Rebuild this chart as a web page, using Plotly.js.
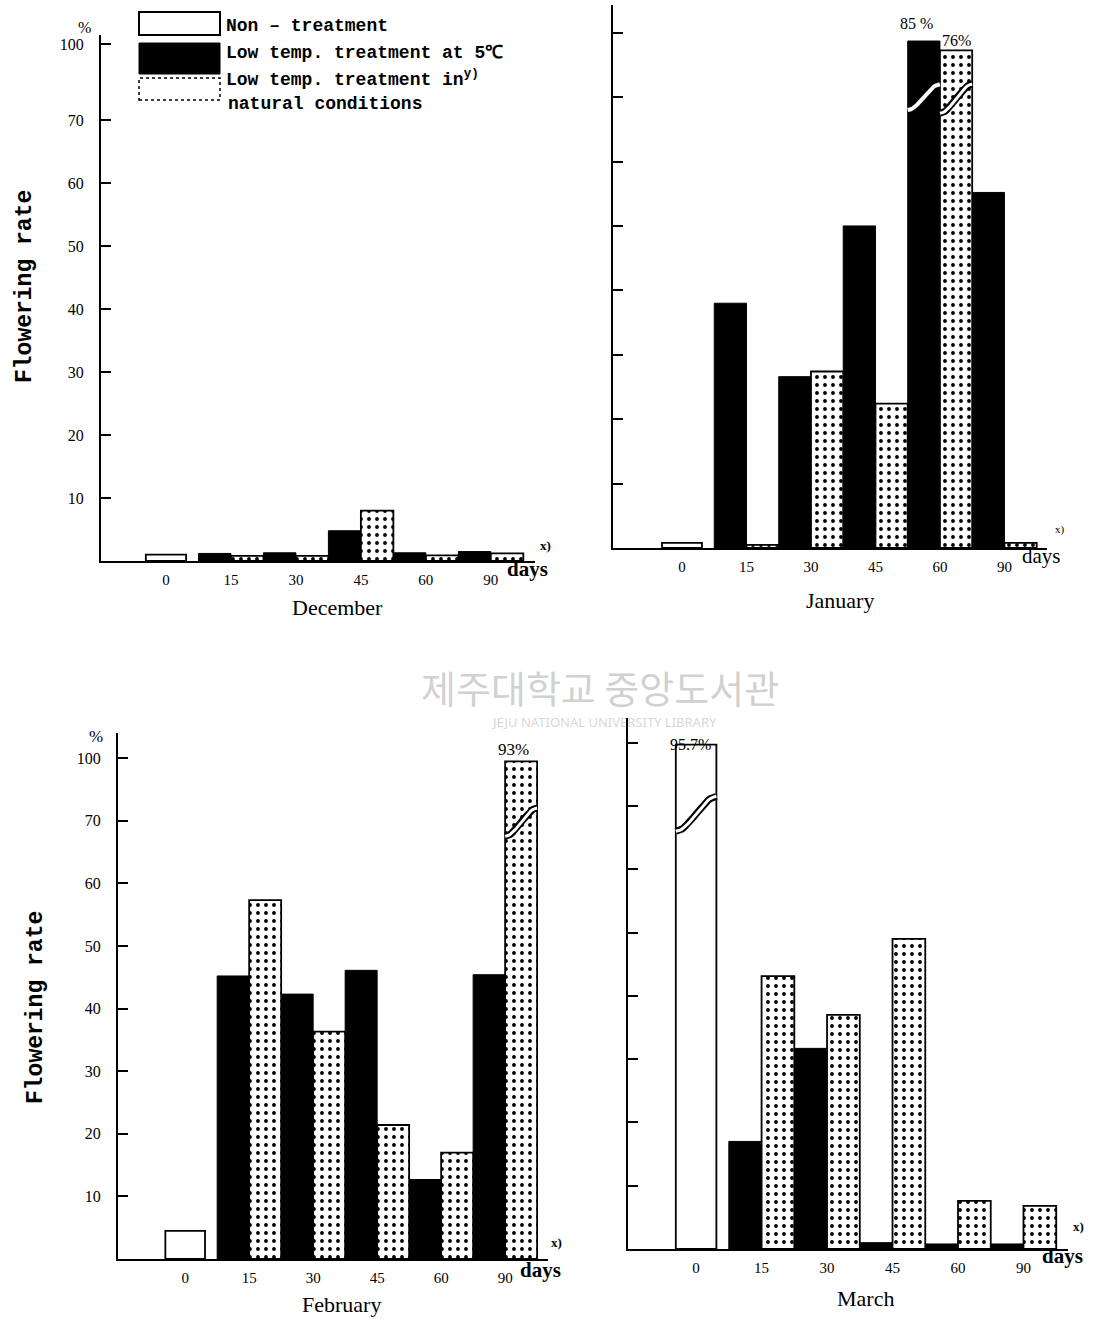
<!DOCTYPE html>
<html><head><meta charset="utf-8">
<script src="https://cdn.plot.ly/plotly-3.0.1.min.js"></script>
<style>body{margin:0;background:#fff}#chart{width:1095px;height:1319px}</style>
</head><body><div id="chart"></div>
<script>
// ---------- data (% flowering) ----------
const days = ["0", "15", "30", "45", "60", "90"];
const treatedDays = ["15", "30", "45", "60", "90"];
const controlDays = ["0"];
const seriesNames = ["Non – treatment", "Low temp. treatment at 5℃", "Low temp. treatment in natural conditions"];
const months = ["December", "January", "February", "March"];

const decNon = [1.0];
const decCold = [1.2, 1.3, 4.8, 1.3, 1.5];
const decNatural = [0.8, 0.8, 8.0, 0.9, 1.2];

const janNon = [0.8];
const janCold = [38.0, 26.6, 50.0, 85, 55.2];
const janNatural = [0.5, 27.4, 22.4, 76, 0.8];

const febNon = [4.5];
const febCold = [45.2, 42.3, 46.1, 12.7, 45.4];
const febNatural = [57.3, 36.3, 21.4, 17.0, 93];

const marNon = [95.7];
const marCold = [17.0, 31.7, 1.0, 0.8, 0.8];
const marNatural = [43.1, 37.0, 49.0, 7.6, 6.8];

const yTickText = ["10", "20", "30", "40", "50", "60", "70", "100"];

// ---------- layout helpers ----------
const W = 1095, H = 1319;
const px = x => x / W;
const py = y => 1 - y / H;
// broken axis: values above 70 are compressed into the 70..80 band
const BREAK = 70;
const brk = v => v <= BREAK ? v : BREAK + 10 * Math.pow((v - BREAK) / 30, 0.2);

const panels = [
  {non: decNon, cold: decCold, nat: decNatural, left: 101, right: 535, base: 561, top: 35, xr: [-1.0, 5.68], ymax: 83.5, topTick: 82, labels: true},
  {non: janNon, cold: janCold, nat: janNatural, left: 613, right: 1047, base: 548, top: 5, xr: [-1.07, 5.66], ymax: 84.3, topTick: 80, labels: false},
  {non: febNon, cold: febCold, nat: febNatural, left: 118, right: 548, base: 1259, top: 733, xr: [-1.05, 5.67], ymax: 84.0, topTick: 80, labels: true},
  {non: marNon, cold: marCold, nat: marNatural, left: 628, right: 1068, base: 1249, top: 718, xr: [-1.04, 5.68], ymax: 83.9, topTick: 80, labels: false}
];

const tickFont = {family: "Liberation Serif, DejaVu Serif, serif", size: 15, color: "#000"};
const traces = [];
const layout = {
  width: W, height: H, margin: {l: 0, r: 0, t: 0, b: 0},
  paper_bgcolor: "#fff", plot_bgcolor: "rgba(0,0,0,0)",
  showlegend: false, barmode: "overlay", hovermode: "closest",
  annotations: [], shapes: []
};

function wave(xa, ya, xl, xr, lo, hi, dark) {
  const xs = [], ys = [];
  for (let i = 0; i <= 20; i++) {
    const t = i / 20;
    const s = t * t * (3 - 2 * t);
    xs.push(xl + t * (xr - xl));
    ys.push(lo + (hi - lo) * s);
  }
  if (dark) {
    traces.push({type: "scatter", mode: "lines", x: xs, y: ys, xaxis: xa, yaxis: ya,
      line: {color: "#fff", width: 4}, hoverinfo: "skip"});
  } else {
    traces.push({type: "scatter", mode: "lines", x: xs, y: ys, xaxis: xa, yaxis: ya,
      line: {color: "#000", width: 7}, hoverinfo: "skip"});
    traces.push({type: "scatter", mode: "lines", x: xs, y: ys, xaxis: xa, yaxis: ya,
      line: {color: "#fff", width: 3}, hoverinfo: "skip"});
  }
}

panels.forEach((p, i) => {
  const n = i === 0 ? "" : String(i + 1);
  const xa = "x" + n, ya = "y" + n;
  const tx = treatedDays.map(d => days.indexOf(d));
  const cx = controlDays.map(d => days.indexOf(d));
  traces.push({type: "bar", name: seriesNames[1], x: tx, y: p.cold.map(brk), customdata: p.cold,
    xaxis: xa, yaxis: ya, offset: -0.5, width: 0.5,
    marker: {color: "#000", line: {color: "#000", width: 1}},
    hovertemplate: "%{customdata}%<extra>" + seriesNames[1] + "</extra>"});
  traces.push({type: "bar", name: seriesNames[2], x: tx, y: p.nat.map(brk), customdata: p.nat,
    xaxis: xa, yaxis: ya, offset: 0, width: 0.5,
    marker: {color: "#fff", line: {color: "#000", width: 1.8},
      pattern: {shape: ".", fgcolor: "#000", bgcolor: "#fff", size: 8, solidity: 0.18}},
    hovertemplate: "%{customdata}%<extra>" + seriesNames[2] + "</extra>"});
  traces.push({type: "bar", name: seriesNames[0], x: cx, y: p.non.map(brk), customdata: p.non,
    xaxis: xa, yaxis: ya, offset: -0.31, width: 0.62,
    marker: {color: "#fff", line: {color: "#000", width: 1.8}},
    hovertemplate: "%{customdata}%<extra>" + seriesNames[0] + "</extra>"});
  // break marks on bars above the axis break
  p.cold.forEach((v, k) => { if (v > BREAK) wave(xa, ya, tx[k] - 0.5, tx[k], 68, 72, true); });
  p.nat.forEach((v, k) => { if (v > BREAK) wave(xa, ya, tx[k], tx[k] + 0.5, 67.5, 72, false); });
  p.non.forEach((v, k) => { if (v > BREAK) wave(xa, ya, cx[k] - 0.31, cx[k] + 0.31, 66, 71.5, false); });

  layout["xaxis" + n] = {
    domain: [px(p.left), px(p.right)], range: p.xr, anchor: ya,
    showline: true, linecolor: "#000", linewidth: 2, ticks: "",
    tickmode: "array", tickvals: days.map((d, k) => k), ticktext: days,
    tickfont: tickFont, ticklabelstandoff: 4, showgrid: false, zeroline: false, fixedrange: true
  };
  layout["yaxis" + n] = {
    domain: [py(p.base), py(p.top)], range: [0, p.ymax], anchor: xa,
    showline: true, linecolor: "#000", linewidth: 2,
    ticks: "inside", ticklen: 10, tickwidth: 2, tickcolor: "#000",
    tickmode: "array", tickvals: [10, 20, 30, 40, 50, 60, 70, p.topTick], ticktext: yTickText,
    showticklabels: p.labels, tickfont: {family: "Liberation Serif, serif", size: 16, color: "#000"},
    ticklabelstandoff: 12, showgrid: false, zeroline: false, fixedrange: true
  };
});

const A = layout.annotations;
function txt(x, y, text, size, opts) {
  A.push(Object.assign({xref: "paper", yref: "paper", x: px(x), y: py(y), text: text, showarrow: false,
    xanchor: "center", yanchor: "middle",
    font: {family: "Liberation Serif, DejaVu Serif, serif", size: size, color: "#000"}}, opts || {}));
}
// watermark
txt(600, 687, "제주대학교 중앙도서관", 38, {font: {family: "Noto Sans CJK KR", size: 38, color: "rgba(150,150,150,0.45)"}});
txt(604, 722, "JEJU NATIONAL UNIVERSITY LIBRARY", 13, {font: {family: "Noto Sans, sans-serif", size: 13, color: "rgba(150,150,150,0.4)"}});

// month captions
txt(337, 607, months[0], 22);
txt(840, 600, months[1], 22);
txt(341, 1304, months[2], 22);
txt(865, 1298, months[3], 22);
// y titles
const mono = "Liberation Mono, DejaVu Sans Mono, monospace";
txt(25, 287, "<b>Flowering rate</b>", 23, {textangle: -90, font: {family: mono, size: 23, color: "#000"}});
txt(36, 1008, "<b>Flowering rate</b>", 23, {textangle: -90, font: {family: mono, size: 23, color: "#000"}});
// % marks
txt(84, 27, "%", 16);
txt(96, 736, "%", 17);
// "days" and "x)"
const bold = {family: "Liberation Serif, serif", size: 21, color: "#000"};
txt(505, 569, "<b>days</b>", 21, {xanchor: "left", font: bold});
txt(1020, 556, "days", 21, {xanchor: "left"});
txt(518, 1270, "<b>days</b>", 21, {xanchor: "left", font: bold});
txt(1040, 1256, "<b>days</b>", 21, {xanchor: "left", font: bold});
txt(545, 546, "<b>x)</b>", 13);
txt(1060, 529, "x)", 11);
txt(556, 1242, "<b>x)</b>", 13);
txt(1078, 1226, "<b>x)</b>", 13);
// values above the break
txt(916, 23, "85 %", 16);
txt(956, 41, "76%", 16);
txt(513, 749, "93%", 17);
txt(690, 744, "95.7%", 16);

// custom legend
const S = layout.shapes;
S.push({type: "rect", xref: "paper", yref: "paper", x0: px(139), x1: px(220), y0: py(35), y1: py(12),
  fillcolor: "#fff", line: {color: "#000", width: 2}});
S.push({type: "rect", xref: "paper", yref: "paper", x0: px(139), x1: px(220), y0: py(74), y1: py(43),
  fillcolor: "#000", line: {color: "#000", width: 1}});
S.push({type: "rect", xref: "paper", yref: "paper", x0: px(139), x1: px(220), y0: py(100), y1: py(78),
  fillcolor: "#fff", line: {color: "#000", width: 1.5, dash: "dot"}});
const legFont = {family: mono, size: 18, color: "#000"};
txt(224, 26, "<b>Non – treatment</b>", 18, {xanchor: "left", font: legFont});
txt(224, 53, "<b>Low temp. treatment at 5℃</b>", 18, {xanchor: "left", font: legFont});
txt(224, 78, "<b>Low temp. treatment in<sup>y)</sup></b>", 18, {xanchor: "left", font: legFont});
txt(226, 104, "<b>natural conditions</b>", 18, {xanchor: "left", font: legFont});

Plotly.newPlot("chart", traces, layout, {displayModeBar: false});
</script>
</body></html>
